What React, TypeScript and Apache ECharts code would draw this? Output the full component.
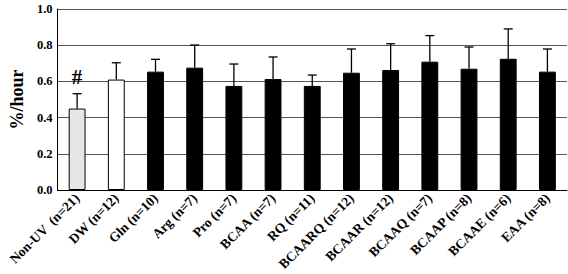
import React, { useEffect, useRef } from "react";
import * as echarts from "echarts";

const categories = [
  "Non-UV  (n=21)", "DW (n=12)", "Gln (n=10)", "Arg (n=7)", "Pro (n=7)", "BCAA (n=7)",
  "RQ (n=11)", "BCAARQ (n=12)", "BCAAR (n=12)", "BCAAQ (n=7)", "BCAAP (n=8)", "BCAAE (n=6)", "EAA (n=8)",
];
const means = [0.45, 0.61, 0.654, 0.676, 0.575, 0.613, 0.575, 0.648, 0.663, 0.709, 0.67, 0.725, 0.654];
const upper = [0.532, 0.703, 0.722, 0.801, 0.696, 0.735, 0.635, 0.779, 0.808, 0.853, 0.79, 0.89, 0.779];
const fills = ["#e6e6e6", "#ffffff", "#000", "#000", "#000", "#000", "#000", "#000", "#000", "#000", "#000", "#000", "#000"];
const marks = ["#", "", "", "", "", "", "", "", "", "", "", "", ""];
const yTicks = [0, 0.2, 0.4, 0.6, 0.8, 1.0];

const FONT = "'Liberation Serif', 'Times New Roman', serif";

export default function App() {
  const ref = useRef<HTMLDivElement>(null);
  useEffect(() => {
    const chart = echarts.init(ref.current!, null, { renderer: "svg" });
    chart.setOption({
      animation: false,
      backgroundColor: "#fff",
      grid: { left: 50, right: 1, top: 9, bottom: 84 },
      xAxis: {
        type: "category",
        data: categories,
        axisLine: { lineStyle: { color: "#000", width: 1 } },
        axisTick: { inside: true, length: 4, lineStyle: { color: "#000" } },
        axisLabel: {
          interval: 0,
          rotate: 45,
          margin: 6,
          color: "#000",
          fontFamily: FONT,
          fontWeight: "bold",
          fontSize: 13.5,
        },
      },
      yAxis: {
        type: "value",
        min: 0,
        max: 1,
        interval: 0.2,
        name: "%/hour",
        nameLocation: "middle",
        nameGap: 30,
        nameTextStyle: { color: "#000", fontFamily: FONT, fontWeight: "bold", fontSize: 18 },
        axisLine: { show: true, lineStyle: { color: "#000" } },
        axisTick: { show: false },
        splitLine: { lineStyle: { color: "#555", width: 1 } },
        axisLabel: {
          color: "#000",
          fontFamily: FONT,
          fontWeight: "bold",
          fontSize: 12.5,
          margin: 5,
          formatter: (v: number) => (yTicks.includes(Math.round(v * 10) / 10) ? v.toFixed(1) : ""),
        },
      },
      series: [
        {
          type: "bar",
          barWidth: "43%",
          data: means.map((v, i) => ({
            value: v,
            itemStyle: { color: fills[i], borderColor: "#000", borderWidth: 1 },
            label: marks[i]
              ? {
                  show: true,
                  position: "top",
                  distance: 21,
                  formatter: marks[i],
                  color: "#000",
                  fontFamily: FONT,
                  fontWeight: "bold",
                  fontSize: 21,
                }
              : { show: false },
          })),
          z: 2,
        },
        {
          type: "custom",
          z: 3,
          data: means.map((v, i) => [i, v, upper[i]]),
          renderItem: (params: any, api: any) => {
            const i = api.value(0);
            const base = api.coord([i, api.value(1)]);
            const top = api.coord([i, api.value(2)]);
            const style = { stroke: "#000", lineWidth: 1.3 };
            return {
              type: "group",
              children: [
                { type: "line", shape: { x1: top[0], y1: base[1], x2: top[0], y2: top[1] }, style },
                { type: "line", shape: { x1: top[0] - 4.5, y1: top[1], x2: top[0] + 4.5, y2: top[1] }, style },
              ],
            };
          },
        },
      ],
    });
    return () => chart.dispose();
  }, []);
  return <div ref={ref} style={{ position: "absolute", left: 0, top: 0, width: 568, height: 274 }} />;
}
